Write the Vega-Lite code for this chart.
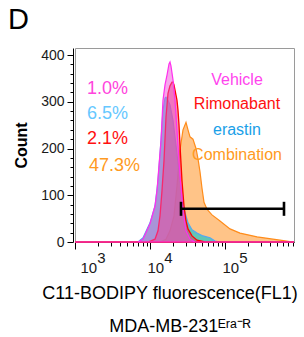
{
  "$schema": "https://vega.github.io/schema/vega-lite/v6.json",
  "width": 219,
  "height": 194,
  "autosize": "none",
  "padding": {"left": 75, "top": 48, "right": 10, "bottom": 95},
  "config": {
    "font": "Liberation Sans",
    "view": {"stroke": "#9a9a9a", "strokeWidth": 1},
    "axis": {"grid": false, "labelColor": "#1a1a1a", "titleColor": "#000", "tickColor": "#000", "domainColor": "#000"}
  },
  "title": {"text": "D", "anchor": "start", "frame": "group", "fontSize": 29, "fontWeight": "normal", "font": "Liberation Sans", "color": "#000", "dx": -67, "offset": 13},
  "datasets": {
    "hist": [
      {"s": "Combination", "x": 1000, "c": 0},
      {"s": "Combination", "x": 13594, "c": 0},
      {"s": "Combination", "x": 16340, "c": 6},
      {"s": "Combination", "x": 18478, "c": 24},
      {"s": "Combination", "x": 20893, "c": 56},
      {"s": "Combination", "x": 22909, "c": 120},
      {"s": "Combination", "x": 25119, "c": 197},
      {"s": "Combination", "x": 27542, "c": 240},
      {"s": "Combination", "x": 30200, "c": 256},
      {"s": "Combination", "x": 32113, "c": 240},
      {"s": "Combination", "x": 34145, "c": 225},
      {"s": "Combination", "x": 37411, "c": 220},
      {"s": "Combination", "x": 41053, "c": 200},
      {"s": "Combination", "x": 43652, "c": 178},
      {"s": "Combination", "x": 46416, "c": 150},
      {"s": "Combination", "x": 49355, "c": 115},
      {"s": "Combination", "x": 52481, "c": 85},
      {"s": "Combination", "x": 57544, "c": 70},
      {"s": "Combination", "x": 67085, "c": 58},
      {"s": "Combination", "x": 85770, "c": 45},
      {"s": "Combination", "x": 116591, "c": 28},
      {"s": "Combination", "x": 158489, "c": 19},
      {"s": "Combination", "x": 267162, "c": 11},
      {"s": "Combination", "x": 541170, "c": 4},
      {"s": "Combination", "x": 735642, "c": 1},
      {"s": "Combination", "x": 831764, "c": 0},

      {"s": "erastin", "x": 1000, "c": 0},
      {"s": "erastin", "x": 6918, "c": 0},
      {"s": "erastin", "x": 8072, "c": 9},
      {"s": "erastin", "x": 10000, "c": 41},
      {"s": "erastin", "x": 11659, "c": 77},
      {"s": "erastin", "x": 12784, "c": 131},
      {"s": "erastin", "x": 14019, "c": 217},
      {"s": "erastin", "x": 14894, "c": 282},
      {"s": "erastin", "x": 15849, "c": 308},
      {"s": "erastin", "x": 16340, "c": 310},
      {"s": "erastin", "x": 17378, "c": 303},
      {"s": "erastin", "x": 18478, "c": 293},
      {"s": "erastin", "x": 20262, "c": 260},
      {"s": "erastin", "x": 22216, "c": 207},
      {"s": "erastin", "x": 25119, "c": 131},
      {"s": "erastin", "x": 28403, "c": 71},
      {"s": "erastin", "x": 32113, "c": 41},
      {"s": "erastin", "x": 36308, "c": 26},
      {"s": "erastin", "x": 42364, "c": 19},
      {"s": "erastin", "x": 50884, "c": 13},
      {"s": "erastin", "x": 63096, "c": 9},
      {"s": "erastin", "x": 73564, "c": 2},
      {"s": "erastin", "x": 85770, "c": 0},
      {"s": "erastin", "x": 831764, "c": 0},

      {"s": "Rimonabant", "x": 1000, "c": 0},
      {"s": "Rimonabant", "x": 9397, "c": 0},
      {"s": "Rimonabant", "x": 11659, "c": 6},
      {"s": "Rimonabant", "x": 12784, "c": 24},
      {"s": "Rimonabant", "x": 13594, "c": 56},
      {"s": "Rimonabant", "x": 14454, "c": 110},
      {"s": "Rimonabant", "x": 15370, "c": 174},
      {"s": "Rimonabant", "x": 16340, "c": 267},
      {"s": "Rimonabant", "x": 17378, "c": 318},
      {"s": "Rimonabant", "x": 18478, "c": 334},
      {"s": "Rimonabant", "x": 19648, "c": 342},
      {"s": "Rimonabant", "x": 20262, "c": 342},
      {"s": "Rimonabant", "x": 20893, "c": 336},
      {"s": "Rimonabant", "x": 22216, "c": 314},
      {"s": "Rimonabant", "x": 22909, "c": 303},
      {"s": "Rimonabant", "x": 23621, "c": 282},
      {"s": "Rimonabant", "x": 24380, "c": 250},
      {"s": "Rimonabant", "x": 25119, "c": 207},
      {"s": "Rimonabant", "x": 26710, "c": 131},
      {"s": "Rimonabant", "x": 28403, "c": 77},
      {"s": "Rimonabant", "x": 30200, "c": 45},
      {"s": "Rimonabant", "x": 32113, "c": 28},
      {"s": "Rimonabant", "x": 36308, "c": 13},
      {"s": "Rimonabant", "x": 42364, "c": 4},
      {"s": "Rimonabant", "x": 54117, "c": 0},
      {"s": "Rimonabant", "x": 831764, "c": 0},

      {"s": "Vehicle", "x": 1000, "c": 0},
      {"s": "Vehicle", "x": 6918, "c": 0},
      {"s": "Vehicle", "x": 8072, "c": 6},
      {"s": "Vehicle", "x": 10000, "c": 39},
      {"s": "Vehicle", "x": 11659, "c": 77},
      {"s": "Vehicle", "x": 12400, "c": 110},
      {"s": "Vehicle", "x": 13183, "c": 164},
      {"s": "Vehicle", "x": 14019, "c": 217},
      {"s": "Vehicle", "x": 14894, "c": 303},
      {"s": "Vehicle", "x": 15849, "c": 336},
      {"s": "Vehicle", "x": 16853, "c": 357},
      {"s": "Vehicle", "x": 17920, "c": 381},
      {"s": "Vehicle", "x": 18478, "c": 385},
      {"s": "Vehicle", "x": 19055, "c": 376},
      {"s": "Vehicle", "x": 20262, "c": 347},
      {"s": "Vehicle", "x": 21544, "c": 303},
      {"s": "Vehicle", "x": 22909, "c": 239},
      {"s": "Vehicle", "x": 25119, "c": 142},
      {"s": "Vehicle", "x": 27542, "c": 67},
      {"s": "Vehicle", "x": 30200, "c": 24},
      {"s": "Vehicle", "x": 34145, "c": 6},
      {"s": "Vehicle", "x": 39811, "c": 0},
      {"s": "Vehicle", "x": 831764, "c": 0}
    ],
    "pct": [
      {"label": "1.0%", "x": 1445, "y": 327},
      {"label": "6.5%", "x": 1445, "y": 274},
      {"label": "2.1%", "x": 1445, "y": 220},
      {"label": "47.3%", "x": 1537, "y": 163}
    ],
    "names": [
      {"label": "Vehicle", "x": 144544, "y": 347},
      {"label": "Rimonabant", "x": 144544, "y": 295},
      {"label": "erastin", "x": 144544, "y": 240},
      {"label": "Combination", "x": 144544, "y": 186}
    ],
    "gate": [
      {"x": 25900, "x2": 611800, "y": 71, "y2": 71},
      {"x": 25900, "x2": 25900, "y": 56, "y2": 86},
      {"x": 611800, "x2": 611800, "y": 56, "y2": 86}
    ]
  },
  "encoding": {
    "x": {
      "field": "x", "type": "quantitative",
      "scale": {"type": "log", "domain": [1000, 831764], "nice": false},
      "axis": {
        "values": [1000, 2000, 3000, 4000, 5000, 6000, 7000, 8000, 9000, 10000, 20000, 30000, 40000, 50000, 60000, 70000, 80000, 90000, 100000, 200000, 300000, 400000, 500000, 600000, 700000, 800000],
        "labelExpr": "(datum.value == 1000 || datum.value == 10000 || datum.value == 100000) ? ['\u200b\u00a0\u00a0\u00a0\u00a0' + round(log(datum.value)/LN10), '10'] : ''",
        "labelAlign": "left",
        "labelBaseline": "top",
        "labelOffset": {"condition": {"test": "datum.value == 1000", "value": 5}, "value": -3},
        "labelFlush": false,
        "labelOverlap": false,
        "labelBound": false,
        "labelFontSize": 15,
        "labelLineHeight": 10,
        "labelPadding": 1,
        "tickSize": {"condition": {"test": "datum.value == 1000 || datum.value == 10000 || datum.value == 100000", "value": 7}, "value": 4},
        "title": ["C11-BODIPY fluorescence(FL1)", "\u200b\u00a0\u00a0\u00a0\u00a0MDA-MB-231\u1d31\u02b3\u1d43\u207b\u1d3f"],
        "titleFontSize": 18,
        "titleFontWeight": "normal",
        "titleLineHeight": 33,
        "titleAlign": "center",
        "titleBaseline": "alphabetic",
        "titleX": 94.5,
        "titleY": 56
      }
    },
    "y": {
      "field": "c", "type": "quantitative",
      "scale": {"domain": [0, 415], "nice": false},
      "stack": null,
      "axis": {
        "values": [0, 20, 40, 60, 80, 100, 120, 140, 160, 180, 200, 220, 240, 260, 280, 300, 320, 340, 360, 380, 400],
        "labelExpr": "datum.value % 100 == 0 ? datum.label : ''",
        "tickSize": {"condition": {"test": "datum.value % 100 == 0", "value": 6}, "value": 3},
        "offset": 2,
        "labelFontSize": 14,
        "labelPadding": 3,
        "title": "Count",
        "titleFontSize": 16,
        "titleFontWeight": "bold",
        "titlePadding": 11
      }
    }
  },
  "layer": [
    {
      "data": {"name": "hist"},
      "transform": [{"filter": "datum.s == 'Combination'"}],
      "mark": {"type": "area", "fillOpacity": 0.75, "strokeWidth": 1.2},
      "encoding": {
        "fill": {"field": "s", "type": "nominal", "legend": null, "scale": {"domain": ["Combination", "erastin", "Rimonabant", "Vehicle"], "range": ["#ffb060", "#20c8c8", "#e8384f", "#f050d8"]}},
        "stroke": {"field": "s", "type": "nominal", "legend": null, "scale": {"domain": ["Combination", "erastin", "Rimonabant", "Vehicle"], "range": ["#ff8c1a", "#55a8f0", "#ff0000", "#ff30ee"]}}
      }
    },
    {
      "data": {"name": "hist"},
      "transform": [{"filter": "datum.s == 'erastin'"}],
      "mark": {"type": "area", "fillOpacity": 0.7, "strokeWidth": 1.2},
      "encoding": {
        "fill": {"field": "s", "type": "nominal", "legend": null},
        "stroke": {"field": "s", "type": "nominal", "legend": null}
      }
    },
    {
      "data": {"name": "hist"},
      "transform": [{"filter": "datum.s == 'Rimonabant'"}],
      "mark": {"type": "area", "fillOpacity": 0.5, "strokeWidth": 1.3},
      "encoding": {
        "fill": {"field": "s", "type": "nominal", "legend": null},
        "stroke": {"field": "s", "type": "nominal", "legend": null}
      }
    },
    {
      "data": {"name": "hist"},
      "transform": [{"filter": "datum.s == 'Vehicle'"}],
      "mark": {"type": "area", "fillOpacity": 0.5, "strokeWidth": 1.2},
      "encoding": {
        "fill": {"field": "s", "type": "nominal", "legend": null},
        "stroke": {"field": "s", "type": "nominal", "legend": null}
      }
    },
    {
      "data": {"name": "gate"},
      "mark": {"type": "rule", "color": "#000", "strokeWidth": 2.6},
      "encoding": {
        "x2": {"field": "x2"},
        "y": {"field": "y", "type": "quantitative"},
        "y2": {"field": "y2"}
      }
    },
    {
      "data": {"name": "pct"},
      "mark": {"type": "text", "align": "left", "baseline": "middle", "fontSize": 18, "font": "Liberation Sans"},
      "encoding": {
        "y": {"field": "y", "type": "quantitative"},
        "text": {"field": "label"},
        "color": {"field": "label", "type": "nominal", "legend": null, "scale": {"domain": ["1.0%", "6.5%", "2.1%", "47.3%", "Vehicle", "Rimonabant", "erastin", "Combination"], "range": ["#ff44dd", "#66c8ff", "#ff1010", "#ff9a22", "#ff44ee", "#ff1010", "#1aa0e8", "#ff9a22"]}}
      }
    },
    {
      "data": {"name": "names"},
      "mark": {"type": "text", "align": "center", "baseline": "middle", "fontSize": 16, "font": "Liberation Sans"},
      "encoding": {
        "y": {"field": "y", "type": "quantitative"},
        "text": {"field": "label"},
        "color": {"field": "label", "type": "nominal", "legend": null}
      }
    }
  ]
}
